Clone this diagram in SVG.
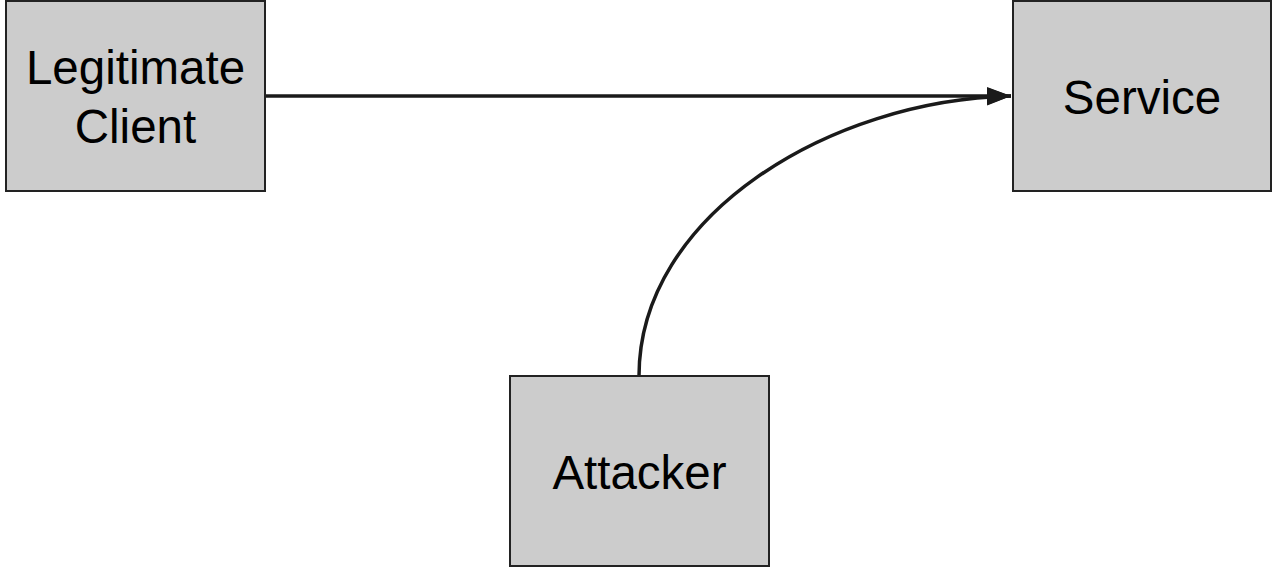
<svg xmlns="http://www.w3.org/2000/svg" width="1273" height="569" viewBox="0 0 1273 569">
<style>
.box{fill:#cccccc;stroke:#222222;stroke-width:2}
.lbl{font-family:"Liberation Sans",Arial,sans-serif;font-size:47.5px;fill:#000;text-anchor:middle}
.edge{fill:none;stroke:#1a1a1a;stroke-width:3.5}
</style>
<defs>
<marker id="arrow" markerUnits="userSpaceOnUse" markerWidth="26" markerHeight="20" refX="24" refY="9" orient="auto">
<path d="M0,0 L24,9 L0,18 Z" fill="#1a1a1a"/>
</marker>
</defs>
<g id="connectors">
<path class="edge" d="M265,96 L1011,96" marker-end="url(#arrow)"/>
<path class="edge" d="M639,376 C639,215 830,100 1011,96" marker-end="url(#arrow)"/>
</g>
<g id="legitimate-client">
<rect class="box" x="6" y="1" width="259" height="190"/>
<text class="lbl" x="135.5" y="84">Legitimate</text>
<text class="lbl" x="135.5" y="143">Client</text>
</g>
<g id="service">
<rect class="box" x="1013" y="1" width="258" height="190"/>
<text class="lbl" x="1142" y="114">Service</text>
</g>
<g id="attacker">
<rect class="box" x="510" y="376" width="259" height="190"/>
<text class="lbl" x="639.5" y="489">Attacker</text>
</g>
</svg>
